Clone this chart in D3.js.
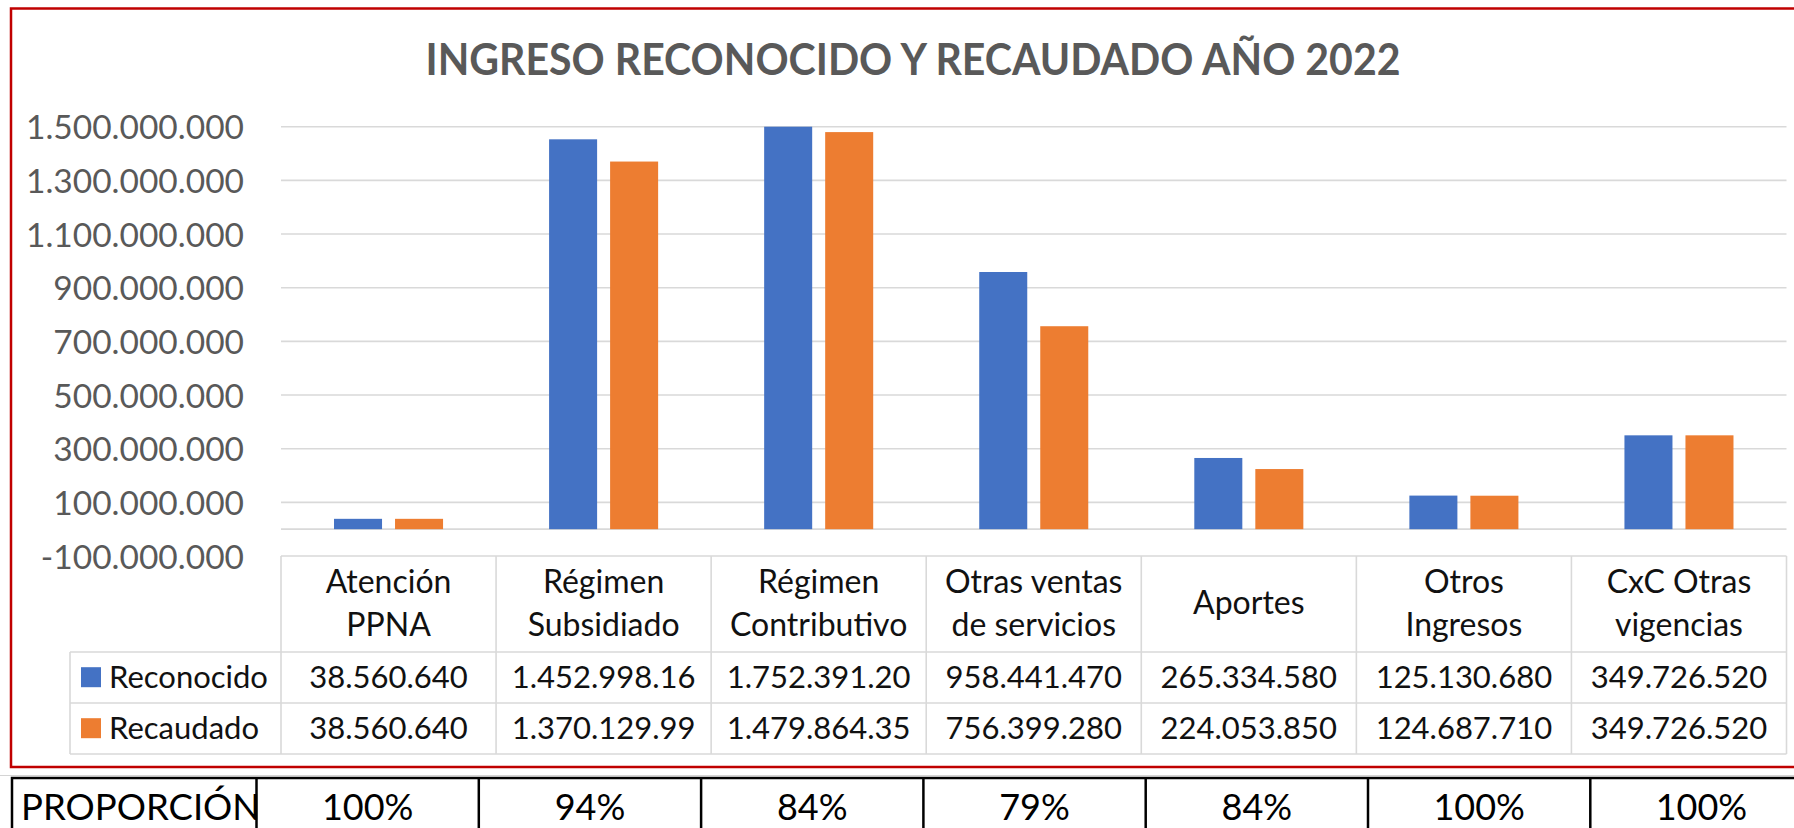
<!DOCTYPE html>
<html>
<head>
<meta charset="utf-8">
<script src="https://cdn.jsdelivr.net/npm/d3@7"></script>
<style>
  html, body { margin: 0; padding: 0; background: #ffffff; }
  svg { display: block; font-family: Lato, "Open Sans", sans-serif; }
</style>
</head>
<body>
<svg id="chart" width="1794" height="828"></svg>
<script>
// ---------- DATA ----------
const title = "INGRESO RECONOCIDO Y RECAUDADO AÑO 2022";
const categories = [
  ["Atención", "PPNA"],
  ["Régimen", "Subsidiado"],
  ["Régimen", "Contributivo"],
  ["Otras ventas", "de servicios"],
  ["Aportes"],
  ["Otros", "Ingresos"],
  ["CxC Otras", "vigencias"]
];
const seriesNames = ["Reconocido", "Recaudado"];
const reconocido = [38560640, 1452998160, 1752391200, 958441470, 265334580, 125130680, 349726520];
const recaudado  = [38560640, 1370129990, 1479864350, 756399280, 224053850, 124687710, 349726520];
const yTicks = [-100000000, 100000000, 300000000, 500000000, 700000000, 900000000, 1100000000, 1300000000, 1500000000];
const proporcionLabel = "PROPORCIÓN";
const proporcion = ["100%", "94%", "84%", "79%", "84%", "100%", "100%"];
const colors = ["#4472C4", "#ED7D31"];

// ---------- SETUP ----------
const svg = d3.select("#chart");
const catKeys = categories.map(c => c.join(" "));
const series = [reconocido, recaudado];

const loc = d3.formatLocale({decimal: ",", thousands: ".", grouping: [3], currency: ["", ""], minus: "-"});
const fmt = loc.format(",d");

const plotLeft = 281, plotRight = 1786.5;
const yTop = 126.7, yBottom = 556;

const x = d3.scaleBand().domain(catKeys).range([plotLeft, plotRight]).paddingInner(0).paddingOuter(0);
const cw = x.bandwidth();
const xSub = d3.scaleBand().domain(seriesNames).range([cw * 0.2465, cw * 0.7535]).paddingInner(0.213);
const y = d3.scaleLinear().domain([-100000000, 1500000000]).range([yBottom, yTop]).clamp(true);

// ---------- OUTER RED BORDER ----------
svg.append("line").attr("x1", 0).attr("x2", 1794).attr("y1", 775.5).attr("y2", 775.5)
  .attr("stroke", "#d4d4d4").attr("stroke-width", 1);
svg.append("rect").attr("x", 11).attr("y", 8.5).attr("width", 1800).attr("height", 758.5)
  .attr("fill", "none").attr("stroke", "#C00000").attr("stroke-width", 2.5);

// ---------- TITLE ----------
svg.append("text").attr("x", 913).attr("y", 75).attr("text-anchor", "middle")
  .attr("font-size", 43).attr("font-weight", 700).attr("fill", "#595959")
  .attr("textLength", 975).attr("lengthAdjust", "spacingAndGlyphs")
  .text(title);

// ---------- GRIDLINES ----------
const gridVals = yTicks.filter(v => v > -100000000).concat([0]);
svg.append("g").selectAll("line").data(gridVals).join("line")
  .attr("x1", plotLeft).attr("x2", plotRight)
  .attr("y1", d => y(d)).attr("y2", d => y(d))
  .attr("stroke", "#d9d9d9").attr("stroke-width", 1.6);

// ---------- Y AXIS ----------
const yAxis = d3.axisLeft(y).tickValues(yTicks).tickFormat(fmt).tickSize(0).tickPadding(0);
const gy = svg.append("g").attr("transform", "translate(244,0)").call(yAxis);
gy.select(".domain").remove();
gy.selectAll("text").attr("font-size", 33.5).attr("fill", "#595959")
  .attr("font-family", "Lato, sans-serif").attr("dy", "0.36em");

// ---------- BARS ----------
const bars = svg.append("g");
catKeys.forEach((k, i) => {
  seriesNames.forEach((s, j) => {
    const v = series[j][i];
    bars.append("rect")
      .attr("x", x(k) + xSub(s))
      .attr("width", xSub.bandwidth())
      .attr("y", y(Math.max(v, 0)))
      .attr("height", y(0) - y(Math.max(v, 0)))
      .attr("fill", colors[j]);
  });
});

// ---------- DATA TABLE ----------
const rowTop = [556, 652, 703, 754];
const tableLeft = 70;
const tg = svg.append("g");
const gridColor = "#d9d9d9";
tg.append("line").attr("x1", plotLeft).attr("x2", plotRight).attr("y1", rowTop[0]).attr("y2", rowTop[0])
  .attr("stroke", gridColor).attr("stroke-width", 1.6);
[rowTop[1], rowTop[2], rowTop[3]].forEach(yy => {
  tg.append("line").attr("x1", tableLeft).attr("x2", plotRight).attr("y1", yy).attr("y2", yy)
    .attr("stroke", gridColor).attr("stroke-width", 1.6);
});
const bounds = catKeys.map(k => x(k)).concat([plotRight]);
tg.selectAll("line.v").data(bounds).join("line").attr("class", "v")
  .attr("x1", d => d).attr("x2", d => d).attr("y1", rowTop[0]).attr("y2", rowTop[3])
  .attr("stroke", gridColor).attr("stroke-width", 1.6);
tg.append("line").attr("x1", tableLeft).attr("x2", tableLeft).attr("y1", rowTop[1]).attr("y2", rowTop[3])
  .attr("stroke", gridColor).attr("stroke-width", 1.6);

// category labels
categories.forEach((lines, i) => {
  const cx = x(catKeys[i]) + cw / 2;
  const t = tg.append("text").attr("text-anchor", "middle").attr("font-size", 32).attr("fill", "#111");
  if (lines.length === 2) {
    t.append("tspan").attr("x", cx).attr("y", 593).attr("y", 593).text(lines[0]);
    t.append("tspan").attr("x", cx).attr("y", 635.5).text(lines[1]);
  } else {
    t.append("tspan").attr("x", cx).attr("y", 614).text(lines[0]);
  }
});

// legend keys + series rows
seriesNames.forEach((s, j) => {
  const top = rowTop[j + 1];
  const mid = (top + rowTop[j + 2]) / 2;
  tg.append("rect").attr("x", 81).attr("y", mid - 10.3).attr("width", 20).attr("height", 20).attr("fill", colors[j]);
  tg.append("text").attr("x", 109).attr("y", mid + 10.5).attr("font-size", 31).attr("fill", "#111").text(s);
  series[j].forEach((v, i) => {
    const t = tg.append("text").attr("x", x(catKeys[i]) + cw / 2).attr("y", mid + 10.5)
      .attr("text-anchor", "middle").attr("font-size", 31).attr("fill", "#111");
    let str = fmt(v);
    t.text(str);
    const maxW = cw * 0.87;
    while (t.node().getComputedTextLength() > maxW && str.length > 1) {
      str = str.slice(0, -1);
      t.text(str);
    }
  });
});

// ---------- PROPORCIÓN TABLE ----------
const pTop = 778, pBottom = 845, pLeft = 12, pFirst = 256.5, pColW = 222.3;
const px = d3.scaleBand().domain(catKeys).range([pFirst, pFirst + pColW * catKeys.length]).padding(0);
const pg = svg.append("g");
pg.append("rect").attr("x", pLeft).attr("y", pTop).attr("width", pFirst + pColW * catKeys.length - pLeft)
  .attr("height", pBottom - pTop).attr("fill", "none").attr("stroke", "#000").attr("stroke-width", 2.5);
pg.selectAll("line.pv").data(catKeys).join("line").attr("class", "pv")
  .attr("x1", d => px(d)).attr("x2", d => px(d)).attr("y1", pTop).attr("y2", pBottom)
  .attr("stroke", "#000").attr("stroke-width", 2.5);
pg.append("text").attr("x", 21).attr("y", 820).attr("font-size", 36.5).attr("fill", "#000").text(proporcionLabel);
pg.selectAll("text.pct").data(proporcion).join("text").attr("class", "pct")
  .attr("x", (d, i) => px(catKeys[i]) + px.bandwidth() / 2).attr("y", 820)
  .attr("text-anchor", "middle").attr("font-size", 36).attr("fill", "#000").text(d => d);
</script>
</body>
</html>
